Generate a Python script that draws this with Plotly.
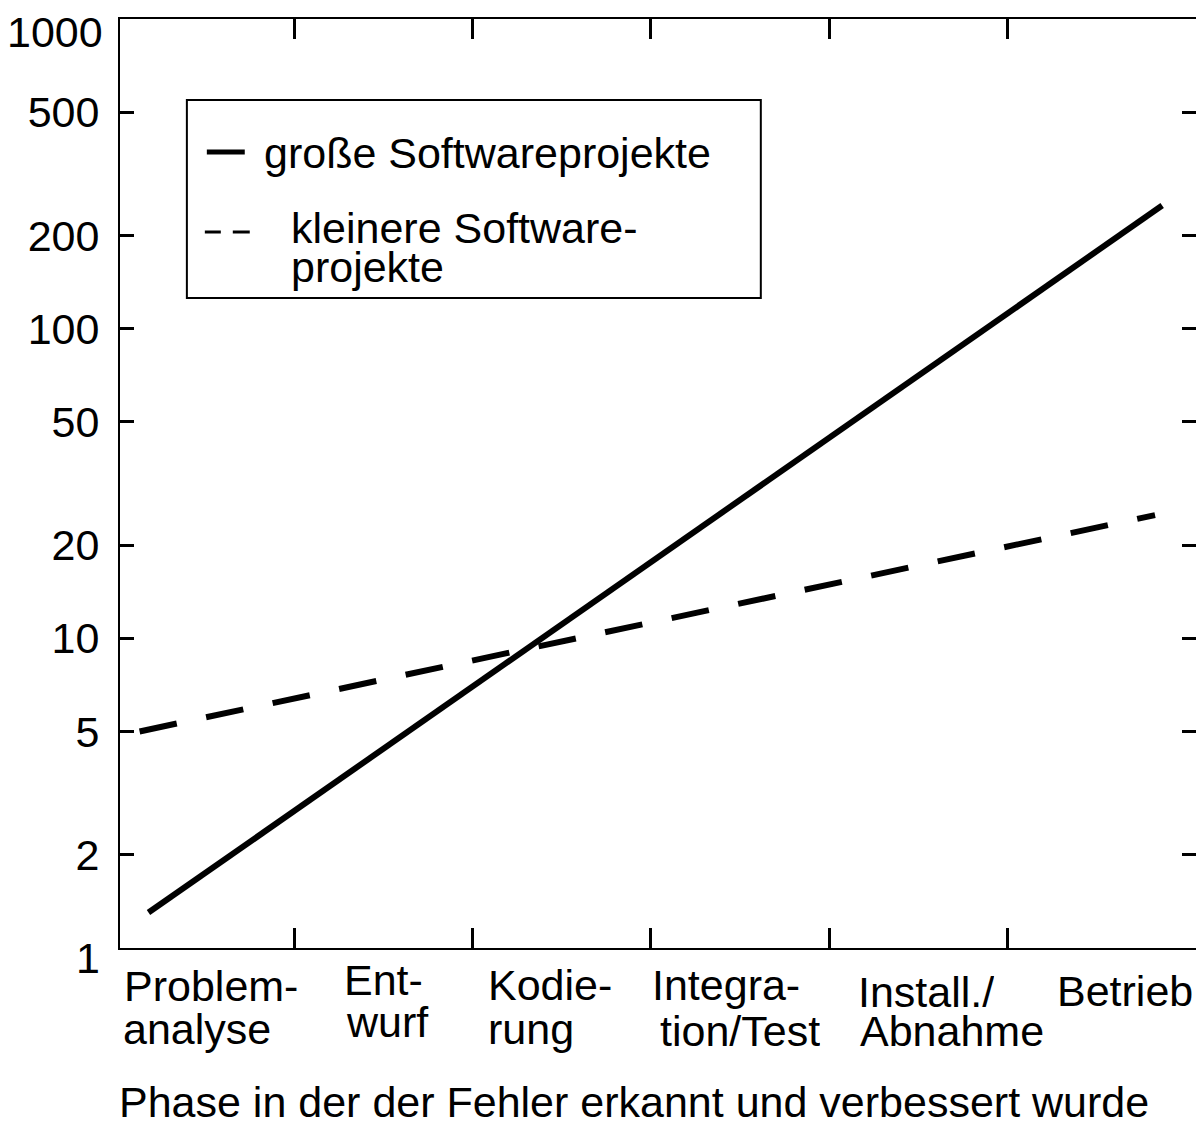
import math
import plotly.graph_objects as go

# ---- data ----
phase_line1 = ["Problem-", "Ent-", "Kodie-", "Integra-", "Install./", "Betrieb"]
phase_line2 = ["analyse", "wurf", "rung", "tion/Test", "Abnahme", ""]

y_tickvals = [1, 2, 5, 10, 20, 50, 100, 200, 500, 1000]
y_ticktext = ["1", "2", "5", "10", "20", "50", "100", "200", "500", "1000"]

# phase axis position (0..6) and relative cost
gross_x = [0.18, 5.87]
gross_y = [1.3, 250]
klein_x = [0.13, 5.83]
klein_y = [5, 25]

legend_gross = "große Softwareprojekte"
legend_klein = ["kleinere Software-", "projekte"]
x_title = "Phase in der der Fehler erkannt und verbessert wurde"

# ---- layout constants (page pixels) ----
PAGE_W, PAGE_H = 1204, 1126
OFF = 8  # default body margin of the html page
W, H = PAGE_W - OFF, PAGE_H - OFF
L, R, T, B = 120, 1198, 19, 948
FONT = "Liberation Sans, Arial, Helvetica, sans-serif"
FS = 43
TIGHT = 36  # text box height for lines without descenders


def px(x):
    return (x - L) / (R - L)


def py(y):
    return (B - y) / (B - T)


fig = go.Figure()
fig.add_trace(go.Scatter(x=gross_x, y=gross_y, mode="lines",
                         line=dict(color="black", width=6),
                         showlegend=False, hoverinfo="skip"))
fig.add_trace(go.Scatter(x=klein_x, y=klein_y, mode="lines",
                         line=dict(color="black", width=6, dash="38px,30px"),
                         showlegend=False, hoverinfo="skip"))

annotations = []


def text_ann(txt, xx, yy, h=None):
    a = dict(text=txt, x=px(xx), y=py(yy), xref="paper", yref="paper",
             xanchor="left", yanchor="middle", showarrow=False, borderpad=0,
             font=dict(family=FONT, size=FS, color="black"))
    if h:
        a.update(height=h, valign="middle")
    return a


# category labels (two lines each, left aligned)
lab_pos1 = [(123, 986), (343, 980), (488, 985), (652, 985), (858, 992), (1058, 991)]
lab_pos2 = [(122, 1029), (345, 1022), (488, 1029), (660, 1031), (860, 1031), (0, 0)]
tight1 = [True, True, True, False, True, True]
tight2 = [False, False, False, True, False, False]
for i in range(len(phase_line1)):
    annotations.append(text_ann(phase_line1[i], *lab_pos1[i], h=TIGHT if tight1[i] else None))
    if phase_line2[i]:
        annotations.append(text_ann(phase_line2[i], *lab_pos2[i], h=TIGHT if tight2[i] else None))

# x title
annotations.append(text_ann(x_title, 118, 1102, h=TIGHT))

# legend texts
annotations.append(text_ann(legend_gross, 263, 153))
annotations.append(text_ann(legend_klein[0], 290, 228, h=TIGHT))
annotations.append(text_ann(legend_klein[1], 290, 267))

# end-of-range y labels (set slightly below their ticks, as in the original)
axis_ticktext = list(y_ticktext)
for idx, shift, right in ((0, -10, 101), (len(y_tickvals) - 1, -13, 104)):
    axis_ticktext[idx] = ""
    annotations.append(dict(text=y_ticktext[idx], x=px(right), y=math.log10(y_tickvals[idx]),
                            xref="paper", yref="y", xanchor="right", yanchor="middle",
                            yshift=shift, showarrow=False, borderpad=0,
                            height=TIGHT, valign="middle",
                            font=dict(family=FONT, size=FS, color="black")))

shapes = [
    # legend box
    dict(type="rect", xref="paper", yref="paper", x0=px(187), x1=px(762), y0=py(298), y1=py(100),
         line=dict(color="black", width=2), fillcolor="white", layer="below"),
    # legend samples
    dict(type="line", xref="paper", yref="paper", x0=px(207), x1=px(245), y0=py(152), y1=py(152),
         line=dict(color="black", width=5)),
    dict(type="line", xref="paper", yref="paper", x0=px(205), x1=px(221), y0=py(232), y1=py(232),
         line=dict(color="black", width=3)),
    dict(type="line", xref="paper", yref="paper", x0=px(233), x1=px(250), y0=py(232), y1=py(232),
         line=dict(color="black", width=3)),
]

fig.update_layout(
    width=W, height=H,
    margin=dict(l=L - OFF, r=PAGE_W - R, t=T - OFF, b=PAGE_H - B, pad=0),
    paper_bgcolor="white", plot_bgcolor="white",
    showlegend=False,
    font=dict(family=FONT, size=FS, color="black"),
    annotations=annotations,
    shapes=shapes,
    xaxis=dict(range=[0.02, 6.06], tickvals=[1, 2, 3, 4, 5], showticklabels=False,
               ticks="inside", ticklen=20, tickwidth=3, tickcolor="black",
               showline=True, linecolor="black", linewidth=2, mirror="ticks",
               showgrid=False, zeroline=False, fixedrange=True),
    yaxis=dict(type="log", range=[-0.0005, 3.0005], tickvals=y_tickvals, ticktext=axis_ticktext,
               ticks="inside", ticklen=14, tickwidth=3, tickcolor="black",
               ticklabelstandoff=10,
               tickfont=dict(family=FONT, size=FS, color="black"),
               showline=True, linecolor="black", linewidth=2, mirror="ticks",
               showgrid=False, zeroline=False, fixedrange=True),
)

fig.write_html("out.html", config={"displayModeBar": False})
